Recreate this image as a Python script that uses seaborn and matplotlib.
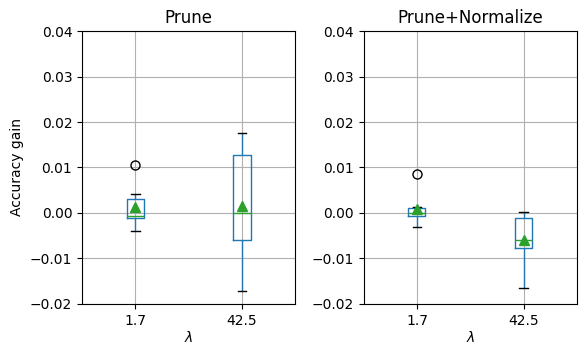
import pandas as pd
import numpy as np
import matplotlib
matplotlib.use('Agg')
import matplotlib.pyplot as plt
import seaborn as sns

# значения (по 9 запусков на каждую лямбду)
lambdas = ['1.7', '42.5']
prune_17 = [-0.0040, -0.0020, -0.0011, -0.0009, -0.0007, 0.0026, 0.0031, 0.0042, 0.0105]
prune_425 = [-0.0171, -0.0100, -0.0059, -0.0030, 0.0000, 0.0050, 0.0127, 0.0142, 0.0176]
norm_17 = [-0.0031, -0.0009, -0.0007, -0.0002, 0.0000, 0.0011, 0.0011, 0.0013, 0.0086]
norm_425 = [-0.0166, -0.0110, -0.0078, -0.0070, -0.0059, -0.0045, -0.0010, -0.0004, 0.0002]

panels = {
    'Prune': [prune_17, prune_425],
    'Prune+Normalize': [norm_17, norm_425],
}

fig, axes = plt.subplots(1, 2, figsize=(5.79, 3.45), dpi=100)
fig.subplots_adjust(left=0.1416, right=0.9965, top=0.91, bottom=0.119, wspace=0.32)

for ax, (title, groups) in zip(axes, panels.items()):
    df = pd.DataFrame({
        'lam': np.repeat(lambdas, [len(g) for g in groups]),
        'gain': np.concatenate(groups),
    })
    sns.boxplot(data=df, x='lam', y='gain', order=lambdas, ax=ax,
                fill=False, color='C0', width=0.16, linewidth=1.0,
                showmeans=True,
                medianprops=dict(color='C2', linewidth=1.0),
                capprops=dict(color='k', linewidth=1.0),
                whiskerprops=dict(color='C0', linewidth=1.0),
                boxprops=dict(color='C0', linewidth=1.0),
                flierprops=dict(marker='o', markerfacecolor='none',
                                markeredgecolor='k', markersize=6.5),
                meanprops=dict(marker='^', markerfacecolor='C2',
                               markeredgecolor='C2', markersize=7.5))
    ax.set_ylim(-0.02, 0.04)
    ax.set_yticks([-0.02, -0.01, 0.0, 0.01, 0.02, 0.03, 0.04])
    ax.grid(True, color='#b0b0b0', linewidth=0.8)
    ax.set_axisbelow(True)
    ax.set_title(title, fontsize=12)
    ax.set_xlabel(r'$\lambda$', fontsize=10, labelpad=2)
    ax.set_ylabel('')
    ax.tick_params(labelsize=10)

axes[0].set_ylabel('Accuracy gain', fontsize=10)

plt.savefig('out.png', dpi=100)
